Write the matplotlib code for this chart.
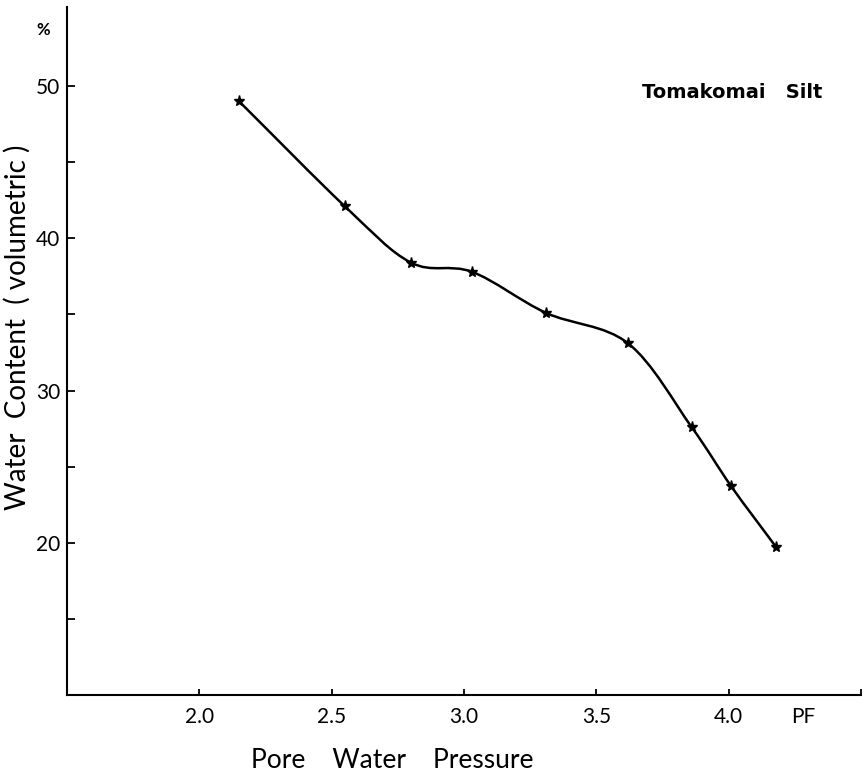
import numpy as np
import matplotlib
matplotlib.use("Agg")
import matplotlib.pyplot as plt
from matplotlib.path import Path
from matplotlib.patches import PathPatch

# pF and volumetric water content
pf = [2.15, 2.55, 2.80, 3.03, 3.31, 3.62, 3.86, 4.01, 4.18]
water = [49.0, 42.1, 38.4, 37.8, 35.1, 33.1, 27.6, 23.7, 19.7]

x_ticks = [2.0, 2.5, 3.0, 3.5, 4.0, 4.5]
x_labels = ["2.0", "2.5", "3.0", "3.5", "4.0", ""]
y_ticks = [15, 20, 25, 30, 35, 40, 45, 50]
y_labels = ["", "20", "", "30", "", "40", "", "50"]


def smooth_path(x, y, k=1/6):
    # Catmull-Rom through the points, as cubic bezier segments
    x = np.asarray(x, float)
    y = np.asarray(y, float)
    px = np.concatenate([[2*x[0]-x[1]], x, [2*x[-1]-x[-2]]])
    py = np.concatenate([[2*y[0]-y[1]], y, [2*y[-1]-y[-2]]])
    verts = [(x[0], y[0])]
    codes = [Path.MOVETO]
    for i in range(1, len(px)-2):
        c1 = (px[i] + (px[i+1]-px[i-1])*k, py[i] + (py[i+1]-py[i-1])*k)
        c2 = (px[i+1] - (px[i+2]-px[i])*k, py[i+1] - (py[i+2]-py[i])*k)
        verts += [c1, c2, (px[i+1], py[i+1])]
        codes += [Path.CURVE4]*3
    return Path(verts, codes)


plt.rcParams['font.family'] = ['Lato', 'DejaVu Sans']

fig = plt.figure(figsize=(8.66, 7.72), dpi=100)
ax = fig.add_axes([0.0774, 0.0998, 0.9168, 0.8912])

ax.add_patch(PathPatch(smooth_path(pf, water), fill=False, lw=1.8, color='black'))
ax.plot(pf, water, ls='none', marker='*', ms=8, color='black')

ax.set_xlim(1.5, 4.5)
ax.set_ylim(10, 55.2)

for s in ['top', 'right']:
    ax.spines[s].set_visible(False)
for s in ['left', 'bottom']:
    ax.spines[s].set_linewidth(1.5)

ax.set_xticks(x_ticks)
ax.set_xticklabels(x_labels)
ax.set_yticks(y_ticks)
ax.set_yticklabels(y_labels)
ax.tick_params(axis='x', direction='in', length=4.5, width=1.3, labelsize=15, pad=9)
ax.tick_params(axis='y', direction='in', length=6, width=1.3, labelsize=15, pad=5)

ax.annotate("PF", xy=(4.28, 0), xycoords=('data', 'axes fraction'),
            xytext=(0, -9), textcoords='offset points',
            ha='center', va='top', fontsize=15)

ax.set_xlabel("Pore    Water    Pressure", fontsize=19)
ax.xaxis.set_label_coords(0.409, -0.077)
ax.set_ylabel("Water  Content  ( volumetric )", fontsize=20)
ax.yaxis.set_label_coords(-0.046, 0.535)

fig.text(43/866, 1 - 30/772, "%", ha='center', va='center', fontsize=12, fontweight='bold')
fig.text(642/866, 1 - 93/772, "Tomakomai   Silt", ha='left', va='center',
         fontsize=14, fontweight='bold', family='DejaVu Sans')

fig.savefig("out.png", dpi=100)
